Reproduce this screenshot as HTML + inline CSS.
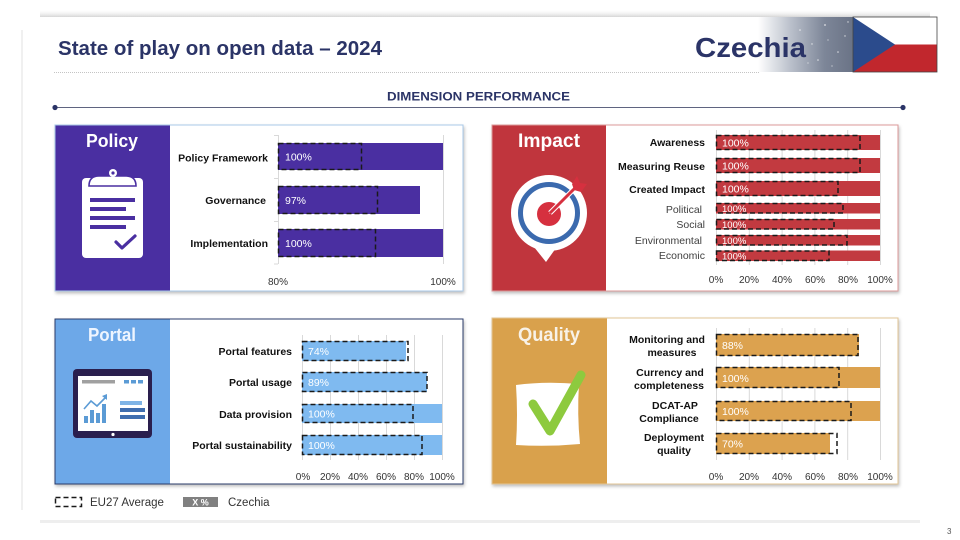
<!DOCTYPE html>
<html><head><meta charset="utf-8">
<style>
html,body{margin:0;padding:0;background:#fff;width:960px;height:540px;overflow:hidden}
svg{display:block}
text{font-family:"Liberation Sans",sans-serif}
</style></head><body>
<svg width="960" height="540" viewBox="0 0 960 540" xmlns="http://www.w3.org/2000/svg">
<defs>
<linearGradient id="topsh" x1="0" y1="0" x2="1" y2="0">
<stop offset="0" stop-color="#fff" stop-opacity="0"/><stop offset="0.2" stop-color="#c8c8c8"/><stop offset="0.8" stop-color="#c8c8c8"/><stop offset="1" stop-color="#fff" stop-opacity="0"/>
</linearGradient>
<linearGradient id="topsh2" x1="0" y1="0" x2="0" y2="1">
<stop offset="0" stop-color="#fff" stop-opacity="0"/><stop offset="1" stop-color="#000" stop-opacity="0.18"/>
</linearGradient>
<linearGradient id="hdr" x1="0" y1="0" x2="1" y2="0">
<stop offset="0" stop-color="#ffffff"/><stop offset="0.35" stop-color="#b9bfca"/><stop offset="0.7" stop-color="#7d8698"/><stop offset="1" stop-color="#6a7386"/>
</linearGradient>
<filter id="sh" x="-5%" y="-5%" width="110%" height="115%"><feDropShadow dx="1" dy="2" stdDeviation="1.5" flood-color="#000" flood-opacity="0.25"/></filter>
</defs>

<!-- card shadows -->
<rect x="40" y="9" width="890" height="8" fill="url(#topsh2)" opacity="0.9"/>
<rect x="23" y="17" width="917" height="505" fill="#fff"/>
<rect x="40" y="520" width="880" height="3" fill="#eeeeee"/>
<rect x="21" y="30" width="2" height="480" fill="#f0f0f0"/>

<!-- header -->
<text x="58" y="55" font-size="20" font-weight="bold" fill="#2b3467" textLength="324" lengthAdjust="spacingAndGlyphs">State of play on open data – 2024</text>
<line x1="54" y1="72.5" x2="760" y2="72.5" stroke="#c4c4c4" stroke-width="1" stroke-dasharray="1,1"/>
<rect x="758" y="17" width="95" height="55" fill="url(#hdr)"/>
<g fill="#fff" opacity="0.75">
<circle cx="800" cy="30" r="0.8"/><circle cx="812" cy="44" r="0.7"/><circle cx="825" cy="25" r="0.9"/><circle cx="838" cy="52" r="0.8"/><circle cx="845" cy="36" r="0.7"/><circle cx="818" cy="60" r="0.8"/><circle cx="832" cy="66" r="0.6"/><circle cx="808" cy="63" r="0.6"/><circle cx="828" cy="40" r="0.6"/><circle cx="848" cy="22" r="0.7"/>
</g>
<text x="695" y="57" font-size="28" font-weight="bold" fill="#2b3467" textLength="111" lengthAdjust="spacingAndGlyphs">Czechia</text>
<!-- flag -->
<rect x="853" y="17" width="84" height="27.5" fill="#ffffff"/>
<rect x="853" y="44.5" width="84" height="27.5" fill="#c1272d"/>
<polygon points="853,17 895,44.5 853,72" fill="#2b4b8c"/>
<rect x="853" y="17" width="84" height="55" fill="none" stroke="#444" stroke-width="0.8"/>

<text x="478.5" y="100.5" font-size="12" font-weight="bold" fill="#2b3467" text-anchor="middle" textLength="183" lengthAdjust="spacingAndGlyphs">DIMENSION PERFORMANCE</text>
<line x1="55" y1="107.5" x2="903" y2="107.5" stroke="#5f6480" stroke-width="1"/>
<circle cx="55" cy="107.5" r="2.6" fill="#2b3467"/><circle cx="903" cy="107.5" r="2.6" fill="#2b3467"/>

<!-- ============ POLICY ============ -->
<g filter="url(#sh)"><rect x="55" y="125" width="408" height="166" fill="#fff" stroke="#a9c9e8" stroke-width="1"/></g>
<rect x="55.5" y="125.5" width="114.5" height="165" fill="#4a2fa1"/>
<text x="112" y="147" font-size="18.5" font-weight="bold" fill="#fff" text-anchor="middle" textLength="52" lengthAdjust="spacingAndGlyphs">Policy</text>
<!-- clipboard -->
<rect x="82" y="178" width="61" height="80" rx="4" fill="#fff"/>
<path d="M89,186 Q89,176 99,176 L126,176 Q136,176 136,186 Z" fill="#fff" stroke="#4a2fa1" stroke-width="1.6"/>
<circle cx="113" cy="173" r="4" fill="#fff"/><circle cx="113" cy="173" r="1.6" fill="#4a2fa1"/>
<g fill="#4a2fa1"><rect x="90" y="198" width="45" height="4"/><rect x="90" y="207" width="36" height="4"/><rect x="90" y="216" width="45" height="4"/><rect x="90" y="225" width="36" height="4"/></g>
<polyline points="116,242 122,248 135,236" fill="none" stroke="#4a2fa1" stroke-width="3.2" stroke-linecap="round" stroke-linejoin="round"/>
<!-- grid -->
<g stroke="#d9d9d9" stroke-width="1">
<line x1="278.5" y1="135" x2="278.5" y2="264"/><line x1="443.5" y1="135" x2="443.5" y2="264"/>
<line x1="274" y1="135.5" x2="278" y2="135.5"/><line x1="274" y1="178.5" x2="278" y2="178.5"/><line x1="274" y1="221.5" x2="278" y2="221.5"/><line x1="274" y1="264" x2="278" y2="264"/>
</g>
<g fill="#4a2fa1">
<rect x="278" y="143" width="165" height="27"/><rect x="278" y="186" width="142" height="28"/><rect x="278" y="229" width="165" height="28"/>
</g>
<g fill="none" stroke="#1a1a1a" stroke-width="1.5" stroke-dasharray="5,3">
<rect x="278.5" y="143.5" width="83" height="26"/><rect x="278.5" y="186.5" width="99" height="27"/><rect x="278.5" y="229.5" width="97" height="27"/>
</g>
<g font-size="10.5" fill="#fff">
<text x="285" y="160.5">100%</text><text x="285" y="204">97%</text><text x="285" y="247">100%</text>
</g>
<g font-size="10.5" font-weight="bold" fill="#111" text-anchor="end">
<text x="268" y="161.5">Policy Framework</text><text x="266" y="204">Governance</text><text x="268" y="247">Implementation</text>
</g>
<g font-size="10" fill="#333" text-anchor="middle">
<text x="278" y="285">80%</text><text x="443" y="285">100%</text>
</g>

<!-- ============ IMPACT ============ -->
<g filter="url(#sh)"><rect x="492" y="125" width="406" height="166" fill="#fff" stroke="#dc9a9a" stroke-width="1"/></g>
<rect x="492.5" y="125.5" width="113.5" height="165" fill="#c0353d"/>
<text x="549" y="147" font-size="19" font-weight="bold" fill="#fff" text-anchor="middle" textLength="62" lengthAdjust="spacingAndGlyphs">Impact</text>
<!-- target icon -->
<circle cx="549" cy="213" r="38" fill="#fff"/>
<path d="M530,242 L546,262 L556,248 Z" fill="#fff"/>
<circle cx="549" cy="213" r="28.5" fill="none" stroke="#3b6aae" stroke-width="5"/>
<circle cx="549" cy="214" r="12" fill="#d6303f"/>
<path d="M549,214 L561,205 A12,12 0 0 0 556,204 Z" fill="#fff"/>
<line x1="550" y1="213" x2="575" y2="188" stroke="#fff" stroke-width="5"/>
<line x1="550" y1="213" x2="576" y2="187" stroke="#d6303f" stroke-width="3"/>
<polygon points="572,184 577,176 580,183 587,184 581,192 574,190" fill="#d6303f"/>
<!-- grid -->
<g stroke="#d9d9d9" stroke-width="1">
<line x1="716.5" y1="130" x2="716.5" y2="265"/><line x1="749.3" y1="130" x2="749.3" y2="265"/><line x1="782.1" y1="130" x2="782.1" y2="265"/><line x1="814.9" y1="130" x2="814.9" y2="265"/><line x1="847.7" y1="130" x2="847.7" y2="265"/><line x1="880.5" y1="130" x2="880.5" y2="265"/>
</g>
<g fill="#c23a40">
<rect x="716" y="135" width="164" height="15"/><rect x="716" y="158" width="164" height="15"/><rect x="716" y="181" width="164" height="15"/>
<rect x="716" y="203" width="164" height="10.5"/><rect x="716" y="219" width="164" height="10.5"/><rect x="716" y="235" width="164" height="10.5"/><rect x="716" y="250.5" width="164" height="10.5"/>
</g>
<g fill="none" stroke="#1a1a1a" stroke-width="1.5" stroke-dasharray="5,3">
<rect x="716.5" y="135.5" width="143.5" height="14"/><rect x="716.5" y="158.5" width="143.5" height="14"/><rect x="716.5" y="181.5" width="121.5" height="14"/>
<rect x="716.5" y="203.5" width="126.5" height="9.5"/><rect x="716.5" y="219.5" width="117.5" height="9.5"/><rect x="716.5" y="235.5" width="130.5" height="9.5"/><rect x="716.5" y="251" width="112.5" height="9.5"/>
</g>
<g font-size="10.5" fill="#fff">
<text x="722" y="146.5">100%</text><text x="722" y="169.5">100%</text><text x="722" y="192.5">100%</text>
</g>
<g font-size="9.5" fill="#fff">
<text x="722" y="212">100%</text><text x="722" y="228">100%</text><text x="722" y="244">100%</text><text x="722" y="259.5">100%</text>
</g>
<g font-size="10.5" font-weight="bold" fill="#111" text-anchor="end">
<text x="705" y="146">Awareness</text><text x="705" y="170">Measuring Reuse</text><text x="705" y="193">Created Impact</text>
</g>
<g font-size="10.5" fill="#404040" text-anchor="end">
<text x="702" y="213">Political</text><text x="705" y="228">Social</text><text x="702" y="244">Environmental</text><text x="705" y="259">Economic</text>
</g>
<g font-size="10" fill="#333" text-anchor="middle">
<text x="716" y="283">0%</text><text x="749" y="283">20%</text><text x="782" y="283">40%</text><text x="815" y="283">60%</text><text x="848" y="283">80%</text><text x="880" y="283">100%</text>
</g>

<!-- ============ PORTAL ============ -->
<g filter="url(#sh)"><rect x="55" y="319" width="408" height="165" fill="#fff" stroke="#2c3a6a" stroke-width="1"/></g>
<rect x="55.5" y="319.5" width="114.5" height="164" fill="#6da8e8"/>
<text x="112" y="341" font-size="18.5" font-weight="bold" fill="#eef5ff" text-anchor="middle" textLength="48" lengthAdjust="spacingAndGlyphs">Portal</text>
<!-- tablet icon -->
<rect x="73" y="369" width="79" height="69" rx="4" fill="#2a1f4e"/>
<rect x="78" y="376" width="70" height="55" fill="#fff"/>
<rect x="82" y="380" width="33" height="3.5" fill="#a0a0a0"/>
<rect x="124" y="380" width="5" height="3.5" fill="#5b9bd5"/><rect x="131" y="380" width="5" height="3.5" fill="#5b9bd5"/><rect x="138" y="380" width="5" height="3.5" fill="#5b9bd5"/>
<g fill="#5b9bd5"><rect x="84" y="416" width="4" height="7"/><rect x="90" y="410" width="4" height="13"/><rect x="96" y="413" width="4" height="10"/><rect x="102" y="404" width="4" height="19"/></g>
<polyline points="84,409 91,401 97,406 106,397" fill="none" stroke="#5b9bd5" stroke-width="1.6"/>
<polygon points="107,394 107,400 102,396" fill="#5b9bd5"/>
<rect x="120" y="401" width="22" height="4" fill="#7fb4e6"/><rect x="120" y="408" width="25" height="4" fill="#3f6eb0"/><rect x="120" y="415" width="25" height="4" fill="#3f6eb0"/>
<circle cx="113" cy="434.5" r="1.6" fill="#fff"/>
<!-- grid -->
<g stroke="#d9d9d9" stroke-width="1">
<line x1="302.5" y1="335" x2="302.5" y2="460"/><line x1="330.5" y1="335" x2="330.5" y2="460"/><line x1="358.5" y1="335" x2="358.5" y2="460"/><line x1="386.5" y1="335" x2="386.5" y2="460"/><line x1="414.5" y1="335" x2="414.5" y2="460"/><line x1="442.5" y1="335" x2="442.5" y2="460"/>
</g>
<g fill="#7fbaf0">
<rect x="302" y="341" width="104" height="20"/><rect x="302" y="372" width="125" height="20"/><rect x="302" y="404" width="140" height="19"/><rect x="302" y="435" width="140" height="20"/>
</g>
<g fill="none" stroke="#1a1a1a" stroke-width="1.5" stroke-dasharray="5,3">
<rect x="302.5" y="341.5" width="105.5" height="19"/><rect x="302.5" y="372.5" width="124.5" height="19"/><rect x="302.5" y="404.5" width="110.5" height="18"/><rect x="302.5" y="435.5" width="119.5" height="19"/>
</g>
<g font-size="10.5" fill="#fff">
<text x="308" y="355">74%</text><text x="308" y="386">89%</text><text x="308" y="417.5">100%</text><text x="308" y="449">100%</text>
</g>
<g font-size="10.5" font-weight="bold" fill="#111" text-anchor="end">
<text x="292" y="355">Portal features</text><text x="292" y="386">Portal usage</text><text x="292" y="418">Data provision</text><text x="292" y="449">Portal sustainability</text>
</g>
<g font-size="10" fill="#333" text-anchor="middle">
<text x="303" y="480">0%</text><text x="330" y="480">20%</text><text x="358" y="480">40%</text><text x="386" y="480">60%</text><text x="414" y="480">80%</text><text x="442" y="480">100%</text>
</g>

<!-- ============ QUALITY ============ -->
<g filter="url(#sh)"><rect x="492" y="318" width="406" height="166" fill="#fff" stroke="#e2c594" stroke-width="1"/></g>
<rect x="492.5" y="318.5" width="114.5" height="165" fill="#d9a14c"/>
<text x="549" y="341" font-size="19" font-weight="bold" fill="#f8f2e8" text-anchor="middle" textLength="62" lengthAdjust="spacingAndGlyphs">Quality</text>
<path d="M516,385 Q545,381 579,384 Q577,414 580,444 Q548,447 516,445 Q518,415 516,385 Z" fill="#fff"/>
<polyline points="533,404 550,431 581,375" fill="none" stroke="#8dca3e" stroke-width="9" stroke-linecap="round" stroke-linejoin="round"/>
<!-- grid -->
<g stroke="#d9d9d9" stroke-width="1">
<line x1="716.5" y1="328" x2="716.5" y2="460"/><line x1="749.3" y1="328" x2="749.3" y2="460"/><line x1="782.1" y1="328" x2="782.1" y2="460"/><line x1="814.9" y1="328" x2="814.9" y2="460"/><line x1="847.7" y1="328" x2="847.7" y2="460"/><line x1="880.5" y1="328" x2="880.5" y2="460"/>
</g>
<g fill="#dca24f">
<rect x="716" y="334" width="143" height="22"/><rect x="716" y="367" width="164" height="21"/><rect x="716" y="401" width="164" height="20"/><rect x="716" y="433" width="114" height="21"/>
</g>
<g fill="none" stroke="#1a1a1a" stroke-width="1.5" stroke-dasharray="5,3">
<rect x="716.5" y="334.5" width="141.5" height="21"/><rect x="716.5" y="367.5" width="122.5" height="20"/><rect x="716.5" y="401.5" width="134.5" height="19"/><rect x="716.5" y="433.5" width="120.5" height="20"/>
</g>
<g font-size="10.5" fill="#fff">
<text x="722" y="349">88%</text><text x="722" y="382">100%</text><text x="722" y="415">100%</text><text x="722" y="447.5">70%</text>
</g>
<g font-size="10.5" font-weight="bold" fill="#111" text-anchor="middle">
<text x="667" y="343">Monitoring and</text><text x="672" y="356">measures</text>
<text x="670" y="376">Currency and</text><text x="669" y="389">completeness</text>
<text x="675" y="409">DCAT-AP</text><text x="669" y="422">Compliance</text>
<text x="674" y="441">Deployment</text><text x="674" y="454">quality</text>
</g>
<g font-size="10" fill="#333" text-anchor="middle">
<text x="716" y="480">0%</text><text x="749" y="480">20%</text><text x="782" y="480">40%</text><text x="815" y="480">60%</text><text x="848" y="480">80%</text><text x="880" y="480">100%</text>
</g>

<!-- legend -->
<rect x="55.5" y="497.5" width="26" height="9" fill="none" stroke="#1a1a1a" stroke-width="1.5" stroke-dasharray="5,3"/>
<text x="90" y="506" font-size="11.5" fill="#333">EU27 Average</text>
<rect x="183" y="497" width="35" height="10" fill="#808080"/>
<text x="200.5" y="505.5" font-size="9" font-weight="bold" fill="#fff" text-anchor="middle">X %</text>
<text x="228" y="506" font-size="11.5" fill="#333">Czechia</text>

<text x="947" y="534" font-size="8" fill="#555">3</text>
</svg>
</body></html>
